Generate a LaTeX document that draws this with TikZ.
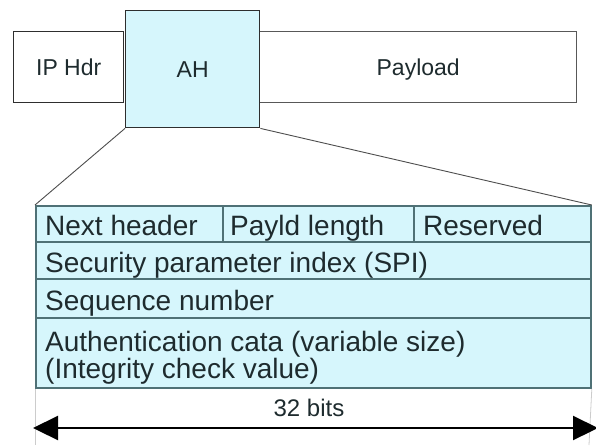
\documentclass[tikz,border=0pt]{standalone}
\usepackage{fontspec}
\setmainfont{Liberation Sans}
\usetikzlibrary{arrows.meta}
\definecolor{ahfill}{HTML}{D6F6FC}
\definecolor{rule}{HTML}{4F7176}
\definecolor{ink}{HTML}{1E2B2E}
\definecolor{frame}{HTML}{2E2E2E}
\tikzset{
  pktbox/.style={draw=frame, line width=1.4pt, inner sep=0pt, anchor=north west,
    font=\fontsize{23}{26}\selectfont, text=ink, text height=17pt, text depth=0pt},
  cell/.style={draw=rule, line width=1.8pt, fill=ahfill, inner sep=0pt, anchor=north west},
  celltext/.style={anchor=west, inner sep=0pt, text=ink, font=\fontsize{28}{28}\selectfont,
    text height=24pt, text depth=0pt},
  zoomline/.style={draw=frame!85, line width=0.9pt},
  extline/.style={draw=black!20, line width=0.8pt},
  dimarrow/.style={line width=2.2pt, {Triangle[length=25pt,width=24pt]}-{Triangle[length=25pt,width=24pt]}}
}
\begin{document}
\begin{tikzpicture}[x=1pt, y=-1pt]
  \useasboundingbox (0,0) rectangle (596,445);

  % packet layout
  \node[pktbox, minimum width=110pt, minimum height=71pt] (ip) at (13,31) {IP Hdr};
  \node[pktbox, minimum width=317pt, minimum height=71pt, draw=frame!80] (pay) at (259,31) {Payload};
  \node[pktbox, fill=ahfill, minimum width=134pt, minimum height=117pt] (ah) at (125,10) {AH};

  % expanded AH header fields
  \node[cell, minimum width=187pt, minimum height=36pt] (nh) at (35,205) {};
  \node[cell, minimum width=191pt, minimum height=36pt] (pl) at (222,205) {};
  \node[cell, minimum width=177pt, minimum height=36pt] (rs) at (413,205) {};
  \node[cell, minimum width=555pt, minimum height=37pt] (spi) at (35,241) {};
  \node[cell, minimum width=555pt, minimum height=39pt] (seq) at (35,278) {};
  \node[cell, minimum width=555pt, minimum height=70pt] (auth) at (35,317) {};

  \node[celltext] (tnh) at ([xshift=10pt]nh.west) {Next header};
  \node[celltext] (tpl) at ([xshift=8pt]pl.west) {Payld length};
  \node[celltext] (trs) at ([xshift=10pt]rs.west) {Reserved};
  \node[celltext] (tspi) at ([xshift=10pt]spi.west) {Security parameter index (SPI)};
  \node[celltext] (tseq) at ([xshift=10pt]seq.west) {Sequence number};
  \node[anchor=west, inner sep=0pt, text=ink, align=left, font=\fontsize{28}{27}\selectfont]
    (tauth) at ([xshift=10pt,yshift=-5pt]auth.west)
    {Authentication cata (variable size)\\(Integrity check value)};

  % zoom lines from AH to the field layout
  \draw[zoomline] (ah.south west) -- (nh.north west);
  \draw[zoomline] (ah.south east) -- (rs.north east);

  % width dimension
  \coordinate (dl) at (33,428);
  \coordinate (dr) at (598,428);
  \coordinate (el) at (35,445);
  \coordinate (er) at (589,445);
  \draw[extline] (auth.south west) -- (el);
  \draw[extline] (auth.south east) -- (er);
  \draw[dimarrow] (dl) -- (dr);
  \node[text=ink, font=\fontsize{24}{24}\selectfont] (bits) at (309,408) {32 bits};
\end{tikzpicture}
\end{document}
